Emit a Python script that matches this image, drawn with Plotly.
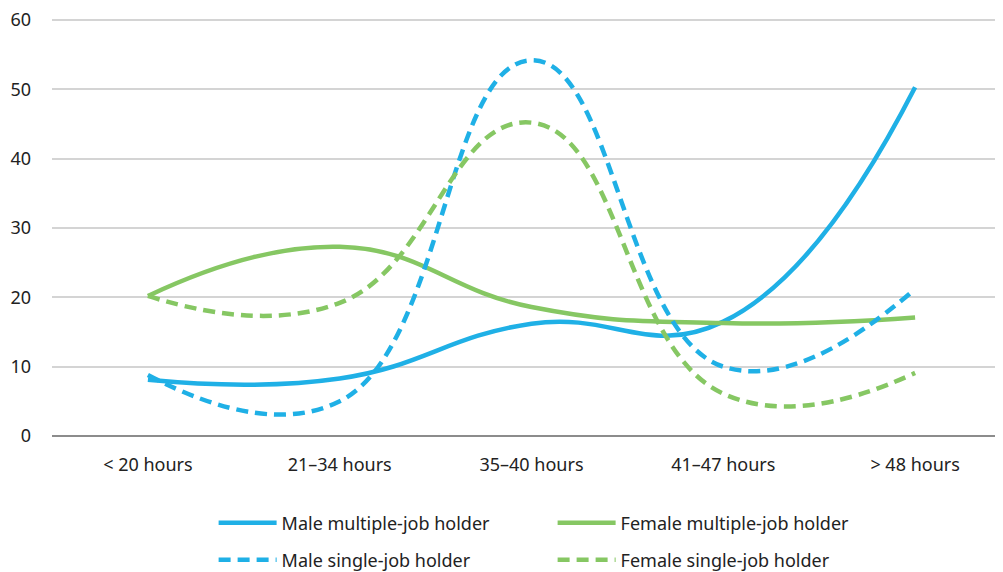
import plotly.graph_objects as go

categories = ['< 20 hours', '21–34 hours', '35–40 hours', '41–47 hours', '> 48 hours']

male_multiple = [8.1, 8.3, 16.2, 16.5, 50.3]
female_multiple = [20.2, 27.3, 18.6, 16.3, 17.1]
male_single = [8.8, 5.0, 54.2, 10.0, 21.2]
female_single = [20.2, 19.2, 45.2, 6.1, 9.1]

y_ticks = [0, 10, 20, 30, 40, 50, 60]

BLUE = '#1fb0e6'
GREEN = '#86c763'

# name, values, colour, dash, legend row
series = [
	('Male multiple-job holder', male_multiple, BLUE, 'solid', 'legend'),
	('Female multiple-job holder', female_multiple, GREEN, 'solid', 'legend'),
	('Male single-job holder', male_single, BLUE, '12px,7px', 'legend2'),
	('Female single-job holder', female_single, GREEN, '12px,7px', 'legend2'),
]

fig = go.Figure()

for name, values, color, dash, leg in series:
	fig.add_trace(go.Scatter(
		x=categories,
		y=values,
		name=name,
		legend=leg,
		mode='lines',
		line=dict(color=color, width=4.5, dash=dash, shape='spline', smoothing=1.3)
	))

legend_style = dict(
	orientation='h',
	xref='container',
	yref='container',
	x=0.205,
	xanchor='left',
	yanchor='middle',
	entrywidth=266,
	itemwidth=58,
	font=dict(size=18)
)

fig.update_layout(
	width=1003,
	height=572,
	margin=dict(l=44, r=0, t=11, b=144),
	plot_bgcolor='white',
	paper_bgcolor='white',
	font=dict(family='Noto Sans', size=18, color='#222222'),
	showlegend=True,
	legend=dict(legend_style, y=1 - 515 / 572),
	legend2=dict(legend_style, y=1 - 552 / 572),
	xaxis=dict(
		range=[-0.5, 4.5],
		showgrid=False,
		showline=False,
		ticklabelstandoff=16,
		fixedrange=True
	),
	yaxis=dict(
		range=[0, 60.15],
		tickvals=y_ticks,
		showgrid=True,
		gridcolor='#d4d4d4',
		gridwidth=1.5,
		zeroline=True,
		zerolinecolor='#8c8c8c',
		zerolinewidth=1.5,
		ticklabelstandoff=20,
		ticklabeloverflow='allow',
		fixedrange=True
	)
)

fig.write_html('out.html')
